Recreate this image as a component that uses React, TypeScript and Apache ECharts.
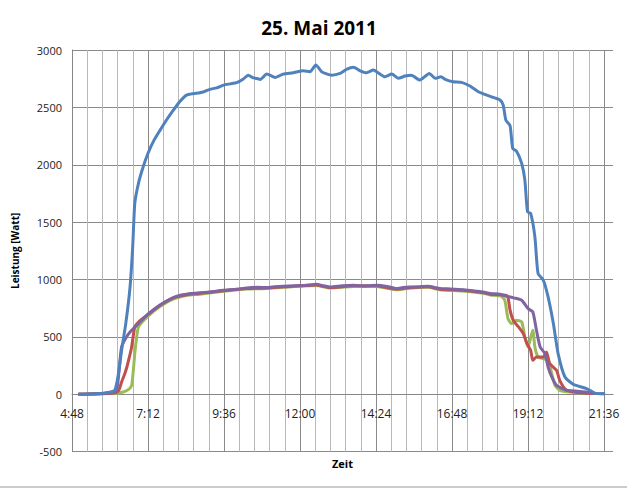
import React, { useEffect, useRef } from "react";
import * as echarts from "echarts";

// x values: minutes since midnight; y values: Watt
const blueData: number[][] = [
  [300, 0], [337, 5], [355, 15], [369, 35], [376, 180], [382, 384], [390, 620], [398, 935], [403, 1285],
  [407, 1665], [414, 1840], [422, 1970], [432, 2100], [443, 2210], [455, 2302], [467, 2390], [480, 2476],
  [492, 2550], [505, 2607], [518, 2620], [530, 2627], [540, 2640], [549, 2657], [562, 2670], [575, 2694],
  [588, 2705], [600, 2715], [612, 2745], [622, 2781], [630, 2760], [638, 2752], [645, 2744], [657, 2790],
  [673, 2761], [688, 2790], [707, 2802], [726, 2819], [739, 2811], [750, 2869], [761, 2811], [780, 2781],
  [796, 2796], [808, 2831], [821, 2849], [834, 2819], [846, 2802], [859, 2825], [868, 2802], [881, 2767],
  [894, 2790], [906, 2753], [919, 2773], [931, 2781], [947, 2738], [965, 2796], [976, 2753], [987, 2767],
  [995, 2744], [1010, 2723], [1026, 2718], [1042, 2686], [1058, 2636], [1074, 2607], [1086, 2587],
  [1099, 2564], [1105, 2520], [1110, 2389], [1118, 2340], [1123, 2142], [1130, 2120], [1140, 2012],
  [1146, 1866], [1151, 1590], [1157, 1576], [1165, 1372], [1171, 1053], [1181, 994], [1190, 849],
  [1200, 617], [1209, 355], [1222, 151], [1238, 87], [1263, 50], [1282, 6], [1298, 5]
];

const purpleData: number[][] = [
  [300, 0], [337, 5], [366, 15], [373, 40], [378, 250], [382, 413], [390, 490], [398, 543], [414, 616],
  [432, 698], [454, 776], [480, 843], [493, 863], [505, 872], [530, 884], [550, 892], [575, 907],
  [600, 915], [619, 927], [640, 932], [657, 930], [673, 938], [688, 942], [710, 945], [730, 948],
  [751, 959], [765, 945], [777, 935], [800, 945], [821, 950], [840, 944], [865, 950], [885, 940],
  [903, 921], [915, 930], [928, 935], [945, 936], [963, 942], [975, 932], [985, 921], [1005, 918],
  [1029, 912], [1050, 900], [1067, 892], [1080, 878], [1099, 872], [1111, 855], [1125, 840],
  [1140, 820], [1152, 747], [1161, 718], [1168, 558], [1175, 412], [1184, 355], [1190, 238],
  [1197, 151], [1206, 78], [1225, 35], [1263, 20], [1282, 6], [1298, 5]
];

const redData: number[][] = [
  [300, 0], [337, 5], [368, 12], [376, 30], [382, 107], [388, 180], [392, 238], [397, 330], [401, 413],
  [407, 587], [414, 630], [432, 696], [454, 774], [480, 840], [505, 868], [530, 880], [575, 903],
  [619, 922], [657, 927], [688, 937], [751, 952], [777, 930], [821, 945], [865, 945], [903, 917],
  [928, 930], [963, 937], [985, 916], [1029, 906], [1067, 886], [1080, 872], [1099, 868], [1111, 862],
  [1114, 849], [1118, 733], [1124, 645], [1134, 587], [1143, 529], [1150, 442], [1157, 384], [1161, 296],
  [1168, 325], [1181, 325], [1187, 369], [1193, 268], [1206, 209], [1212, 122], [1225, 35], [1250, 15],
  [1276, 6]
];

const greenData: number[][] = [
  [300, 0], [337, 5], [372, 10], [385, 20], [396, 45], [401, 78], [404, 200], [407, 358], [410, 480],
  [414, 587], [432, 680], [454, 762], [480, 830], [505, 860], [530, 872], [575, 897], [619, 917],
  [657, 922], [688, 932], [751, 948], [777, 926], [821, 940], [865, 940], [903, 912], [928, 925],
  [963, 932], [985, 911], [1029, 900], [1067, 880], [1080, 866], [1100, 858], [1108, 820], [1114, 660],
  [1121, 616], [1130, 645], [1140, 630], [1146, 500], [1152, 412], [1161, 558], [1165, 412], [1171, 325],
  [1181, 310], [1190, 296], [1197, 180], [1203, 78], [1212, 35], [1231, 20], [1257, 12]
];

const xMin = 288; // 4:48
const xMax = 1313;
const xStep = 28.8; // minor grid step
const yMin = -500;
const yMax = 3000;
const yStep = 500;

const titleText = "25. Mai 2011";
const yName = "Leistung [Watt]";
const xName = "Zeit";

function fmtTime(v: number): string {
  const total = Math.round(v);
  const h = Math.floor(total / 60);
  const m = total % 60;
  return h + ":" + (m < 10 ? "0" + m : String(m));
}

export default function App() {
  const ref = useRef<HTMLDivElement>(null);
  useEffect(() => {
    document.body.style.margin = "0";
    if (!ref.current) return;
    const chart = echarts.init(ref.current, undefined, { renderer: "svg" });
    const font = "'Open Sans', 'DejaVu Sans', sans-serif";
    const gridTop = 50;
    const gridH = 401.7;
    const zeroOffset = (gridH * (0 - yMin)) / (yMax - yMin);
    const mk = (name: string, data: number[][], color: string) => ({
      name,
      type: "line",
      data,
      showSymbol: false,
      symbol: "none",
      smooth: 0.2,
      lineStyle: { color, width: 3 },
      itemStyle: { color },
    });
    chart.setOption({
      animation: false,
      backgroundColor: "#ffffff",
      title: {
        text: titleText,
        left: "center",
        top: 13,
        textStyle: { fontFamily: font, fontWeight: "bold", fontSize: 19, color: "#000" },
      },
      grid: {
        left: 72,
        top: gridTop,
        width: 541,
        height: gridH,
        containLabel: false,
        outerBoundsMode: "none",
      },
      xAxis: {
        type: "value",
        min: xMin,
        max: xMax,
        interval: xStep,
        offset: -zeroOffset,
        name: xName,
        nameLocation: "middle",
        nameGap: 64,
        nameTextStyle: { fontFamily: font, fontWeight: "bold", fontSize: 11, color: "#000" },
        axisLine: { onZero: false, lineStyle: { color: "#868686", width: 1 } },
        axisTick: { show: false },
        axisLabel: {
          margin: 13,
          fontFamily: font,
          fontSize: 12,
          color: "#222",
          showMaxLabel: false,
          formatter: (v: number) => {
            const k = Math.round((v - xMin) / xStep);
            if (Math.abs(v - (xMin + k * xStep)) > 0.5) return "";
            return k % 5 === 0 ? fmtTime(v) : "";
          },
        },
        splitLine: {
          show: true,
          showMaxLine: false,
          lineStyle: { color: ["#8a8a8a", "#b8b8b8", "#b8b8b8", "#b8b8b8", "#b8b8b8"], width: 1 },
        },
      },
      yAxis: {
        type: "value",
        min: yMin,
        max: yMax,
        interval: yStep,
        name: yName,
        nameLocation: "middle",
        nameGap: 52,
        nameTextStyle: { fontFamily: font, fontWeight: "bold", fontSize: 10, color: "#000" },
        axisLine: { show: true, lineStyle: { color: "#868686" } },
        axisTick: { show: false },
        axisLabel: {
          fontFamily: font,
          fontSize: 11,
          color: "#222",
          margin: 10,
          formatter: (v: number) => String(v),
        },
        splitLine: { show: true, lineStyle: { color: "#8a8a8a", width: 1 } },
      },
      graphic: [
        {
          type: "line",
          shape: { x1: 0, y1: 487, x2: 627, y2: 487 },
          style: { stroke: "#9a9a9a", lineWidth: 1 },
        },
      ],
      series: [
        mk("Green", greenData, "#9BBB59"),
        mk("Red", redData, "#C0504D"),
        mk("Purple", purpleData, "#8064A2"),
        mk("Blue", blueData, "#4F81BD"),
      ],
    });
    return () => chart.dispose();
  }, []);
  return <div ref={ref} style={{ width: 638, height: 498 }} />;
}
